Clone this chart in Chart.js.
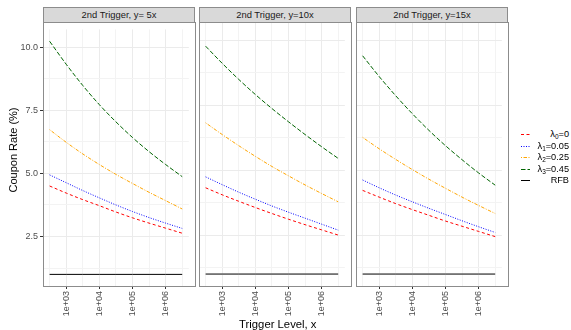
<!DOCTYPE html>
<html><head><meta charset="utf-8">
<script src="https://cdn.jsdelivr.net/npm/chart.js@4.4.0/dist/chart.umd.min.js"></script>
<style>
body{margin:0;width:571px;height:330px;position:relative;background:#fff;font-family:"Liberation Sans",Arial,sans-serif;overflow:hidden}
canvas{position:absolute}
.strip{position:absolute;top:7px;height:16px;width:152px;background:#d9d9d9;border:1px solid #8c8c8c;box-sizing:border-box;font-size:9.4px;color:#1a1a1a;text-align:center;line-height:14px;white-space:nowrap}
.frame{position:absolute;top:22px;height:265px;width:153px;border:1px solid #8c8c8c;box-sizing:border-box;pointer-events:none}
.ytitle{position:absolute;left:-37.3px;top:143px;width:100px;height:14px;line-height:14px;text-align:center;font-size:11px;color:#000;transform:rotate(-90deg);white-space:nowrap}
.xtitle{position:absolute;left:177.8px;top:317.5px;width:200px;height:12px;line-height:12px;text-align:center;font-size:11.3px;color:#000;white-space:nowrap}
.leg{position:absolute;left:518px;width:52px;height:12px}
.leg svg{position:absolute;left:0;top:0}
.leg span{position:absolute;right:1px;top:0;line-height:12px;font-size:9.2px;color:#000;white-space:nowrap}
.leg sub{font-size:6.5px;vertical-align:-2px;line-height:0}
</style>
</head><body>
<script>
// ---- data ----
const panelTitles = ['2nd Trigger, y= 5x', '2nd Trigger, y=10x', '2nd Trigger, y=15x'];
const xLevels = [316, 1000, 3162, 10000, 31623, 100000, 316228, 1000000, 3162278];

const lam0_y5 = [4.50, 4.22, 3.96, 3.72, 3.47, 3.24, 3.03, 2.83, 2.63];
const lam1_y5 = [4.94, 4.63, 4.32, 4.03, 3.75, 3.49, 3.25, 3.03, 2.82];
const lam2_y5 = [6.73, 6.23, 5.77, 5.35, 4.96, 4.60, 4.25, 3.92, 3.59];
const lam3_y5 = [10.23, 9.32, 8.48, 7.72, 7.04, 6.42, 5.86, 5.35, 4.87];

const lam0_y10 = [4.32, 4.05, 3.80, 3.56, 3.33, 3.11, 2.90, 2.70, 2.50];
const lam1_y10 = [4.74, 4.44, 4.15, 3.88, 3.62, 3.38, 3.15, 2.92, 2.69];
const lam2_y10 = [6.82, 6.37, 5.94, 5.53, 5.14, 4.78, 4.43, 4.10, 3.78];
const lam3_y10 = [9.77, 9.11, 8.49, 7.91, 7.37, 6.86, 6.37, 5.90, 5.45];

const lam0_y15 = [4.22, 3.96, 3.71, 3.48, 3.26, 3.04, 2.84, 2.64, 2.44];
const lam1_y15 = [4.62, 4.32, 4.04, 3.78, 3.53, 3.29, 3.05, 2.82, 2.60];
const lam2_y15 = [6.26, 5.82, 5.41, 5.02, 4.65, 4.30, 3.96, 3.64, 3.33];
const lam3_y15 = [9.40, 8.60, 7.86, 7.17, 6.53, 5.94, 5.40, 4.89, 4.42];

const rfb = [1, 1, 1, 1, 1, 1, 1, 1, 1];

const xMajorTicks = [1000, 10000, 100000, 1000000];
const xTickLabels = ['1e+03', '1e+04', '1e+05', '1e+06'];
const xMinorTicks = [316.2278, 3162.278, 31622.78, 316227.8, 3162278];
const yMajorTicks = [2.5, 5, 7.5, 10];
const yTickLabels = ['2.5', '5.0', '7.5', '10.0'];
const yMinorTicks = [1.25, 3.75, 6.25, 8.75];

const seriesNamesHtml = ['λ<sub>0</sub>=0', 'λ<sub>1</sub>=0.05', 'λ<sub>2</sub>=0.25', 'λ<sub>3</sub>=0.45', 'RFB'];
const seriesLabels = ['λ0=0', 'λ1=0.05', 'λ2=0.25', 'λ3=0.45', 'RFB'];

// ---- styles ----
const seriesColors = ['#ff0000', '#0000ff', '#ffa500', '#006400', '#000000'];
const seriesDash = [[3, 2.5], [1, 1.5], [1, 1.5, 3.5, 1.5], [4.5, 2], []];
const panelLeft = [43, 199, 356];
const FONT = '"Liberation Sans", Arial, sans-serif';

const panelSeries = [
  [lam0_y5, lam1_y5, lam2_y5, lam3_y5, rfb],
  [lam0_y10, lam1_y10, lam2_y10, lam3_y10, rfb],
  [lam0_y15, lam1_y15, lam2_y15, lam3_y15, rfb]
];

const allX = xMinorTicks.concat(xMajorTicks).sort((a, b) => a - b);
const allY = yMinorTicks.concat(yMajorTicks).sort((a, b) => a - b);

function makePanel(idx) {
  const left = panelLeft[idx];
  const cv = document.createElement('canvas');
  cv.width = 195; cv.height = 300;
  cv.style.left = (left - 43) + 'px';
  cv.style.top = '22px';
  document.body.appendChild(cv);

  const strip = document.createElement('div');
  strip.className = 'strip';
  strip.style.left = left + 'px';
  strip.textContent = panelTitles[idx];
  document.body.appendChild(strip);

  const frame = document.createElement('div');
  frame.className = 'frame';
  frame.style.left = left + 'px';
  document.body.appendChild(frame);

  const datasets = panelSeries[idx].map((vals, k) => ({
    label: seriesLabels[k],
    data: xLevels.map((x, i) => ({ x: x, y: vals[i] })),
    borderColor: seriesColors[k],
    borderDash: seriesDash[k],
    borderWidth: 1,
    pointRadius: 0,
    fill: false,
    cubicInterpolationMode: 'monotone'
  }));

  const isMajX = v => xMajorTicks.indexOf(v) >= 0;
  const isMajY = v => yMajorTicks.indexOf(v) >= 0;

  new Chart(cv, {
    type: 'line',
    data: { datasets },
    options: {
      responsive: false, animation: false, devicePixelRatio: 1,
      layout: { padding: 0, autoPadding: false },
      plugins: { legend: { display: false }, tooltip: { enabled: false }, title: { display: false } },
      scales: {
        x: {
          type: 'logarithmic',
          min: Math.pow(10, 2.3), max: Math.pow(10, 6.7),
          afterBuildTicks: s => { s.ticks = allX.map(v => ({ value: v, major: isMajX(v) })); },
          afterFit: s => { s.height = 36; },
          ticks: {
            autoSkip: false, minRotation: 90, maxRotation: 90, padding: 2,
            font: { family: FONT, size: 9 }, color: '#4d4d4d',
            callback: v => { const i = xMajorTicks.indexOf(v); return i >= 0 ? xTickLabels[i] : ''; }
          },
          grid: {
            color: c => (c.tick && isMajX(c.tick.value)) ? '#ebebeb' : '#f3f3f3',
            lineWidth: 1, tickLength: 3, drawTicks: true,
            tickColor: c => (c.tick && isMajX(c.tick.value)) ? '#333333' : 'rgba(0,0,0,0)',
            tickWidth: 1
          },
          border: { display: false }
        },
        y: {
          type: 'linear', min: 0.54, max: 10.7,
          afterBuildTicks: s => { s.ticks = allY.map(v => ({ value: v })); },
          afterFit: s => { s.width = 43; },
          ticks: {
            display: idx === 0, padding: 2,
            font: { family: FONT, size: 9 }, color: '#4d4d4d',
            callback: v => { const i = yMajorTicks.indexOf(v); return i >= 0 ? yTickLabels[i] : ''; }
          },
          grid: {
            color: c => (c.tick && isMajY(c.tick.value)) ? '#ebebeb' : '#f3f3f3',
            lineWidth: 1, tickLength: 3, drawTicks: idx === 0,
            tickColor: c => (c.tick && isMajY(c.tick.value)) ? '#333333' : 'rgba(0,0,0,0)',
            tickWidth: 1
          },
          border: { display: false }
        }
      }
    }
  });
}

[0, 1, 2].forEach(makePanel);

// axis titles
const yt = document.createElement('div'); yt.className = 'ytitle'; yt.textContent = 'Coupon Rate (%)'; document.body.appendChild(yt);
const xt = document.createElement('div'); xt.className = 'xtitle'; xt.textContent = 'Trigger Level, x'; document.body.appendChild(xt);

// legend
const legCenters = [134, 145.5, 157, 168.5, 180];
seriesNamesHtml.forEach((name, k) => {
  const d = document.createElement('div');
  d.className = 'leg';
  d.style.top = (legCenters[k] - 6) + 'px';
  const dash = seriesDash[k].length ? seriesDash[k].join(',') : 'none';
  d.innerHTML = '<svg width="16" height="12"><line x1="3" y1="6.5" x2="12" y2="6.5" stroke="' + seriesColors[k] +
    '" stroke-width="1" stroke-dasharray="' + dash + '"/></svg><span>' + name + '</span>';
  document.body.appendChild(d);
});
</script>
</body></html>
